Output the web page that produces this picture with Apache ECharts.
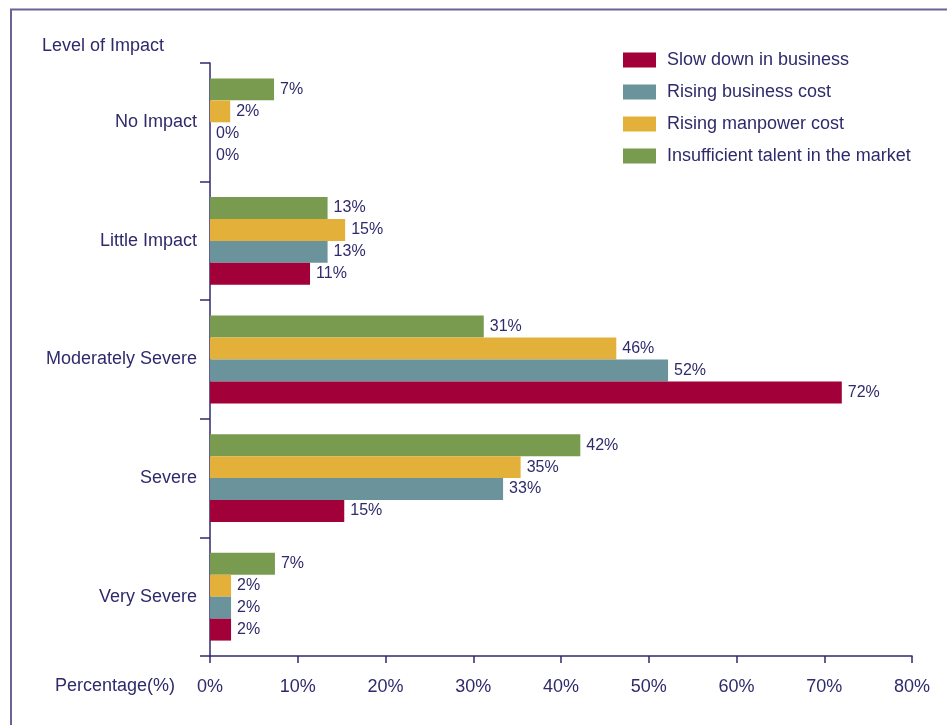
<!DOCTYPE html>
<html>
<head>
<meta charset="utf-8">
<script src="https://cdn.jsdelivr.net/npm/echarts@6/dist/echarts.min.js"></script>
<style>html,body{margin:0;padding:0;background:#fff}#c{width:947px;height:725px}</style>
</head>
<body>
<div id="c"></div>
<script>
const categories = ['No Impact', 'Little Impact', 'Moderately Severe', 'Severe', 'Very Severe'];
const seriesNames = ['Slow down in business', 'Rising business cost', 'Rising manpower cost', 'Insufficient talent in the market'];
const slowDown = [0, 11.4, 72.0, 15.3, 2.4];
const businessCost = [0, 13.4, 52.2, 33.4, 2.4];
const manpowerCost = [2.3, 15.4, 46.3, 35.4, 2.4];
const talent = [7.3, 13.4, 31.2, 42.2, 7.4];
const xTicks = ['0%', '10%', '20%', '30%', '40%', '50%', '60%', '70%', '80%'];

const colors = ['#A10038', '#6A939B', '#E3B13A', '#799B50'];
const txt = '#2F2A6B';
const font = '"Liberation Sans", Arial, sans-serif';
const values = [slowDown, businessCost, manpowerCost, talent];

const chart = echarts.init(document.getElementById('c'));
// draw order top-to-bottom within a band: talent, manpower, business, slowdown
const order = [3, 2, 1, 0];
chart.setOption({
  animation: false,
  textStyle: { fontFamily: font },
  grid: { left: 210, right: 35, top: 63, bottom: 69, containLabel: false },
  legend: {
    orient: 'vertical', left: 618, top: 46,
    itemWidth: 33, itemHeight: 15, itemGap: 14,
    icon: 'rect',
    data: seriesNames,
    formatter: n => '{t|' + n + '}',
    textStyle: { color: txt, fontSize: 18, fontFamily: font,
      rich: { t: { color: txt, fontSize: 18, fontFamily: font, padding: [0, 0, 0, 6] } } }
  },
  xAxis: {
    type: 'value', min: 0, max: 80, interval: 10,
    axisLine: { show: true, lineStyle: { color: txt, width: 1.5 } },
    axisTick: { show: true, length: 7, lineStyle: { color: txt, width: 1.5 } },
    splitLine: { show: false },
    axisLabel: { color: txt, fontSize: 18, margin: 22, formatter: v => xTicks[v / 10] }
  },
  yAxis: {
    type: 'category', data: categories, inverse: true,
    axisLine: { show: true, lineStyle: { color: txt, width: 1.5 } },
    axisTick: { show: true, length: 10, lineStyle: { color: txt, width: 1.5 } },
    axisLabel: { color: txt, fontSize: 18, margin: 13 }
  },
  series: order.map(i => ({
    name: seriesNames[i], type: 'bar', data: values[i],
    barGap: '0%', barCategoryGap: '26%',
    itemStyle: { color: colors[i] },
    label: { show: true, position: 'right', distance: 6, color: txt, fontSize: 16,
      formatter: p => Math.round(p.value) + '%' }
  })),
  graphic: [
    { type: 'polyline', shape: { points: [[11, 725], [11, 9.5], [947, 9.5]] },
      style: { stroke: '#6B6394', lineWidth: 2, fill: null } },
    { type: 'text', left: 42, top: 37, style: { text: 'Level of Impact', fill: txt, fontSize: 18, fontFamily: font } },
    { type: 'text', left: 55, top: 677, style: { text: 'Percentage(%)', fill: txt, fontSize: 18, fontFamily: font } }
  ]
});
</script>
</body>
</html>
